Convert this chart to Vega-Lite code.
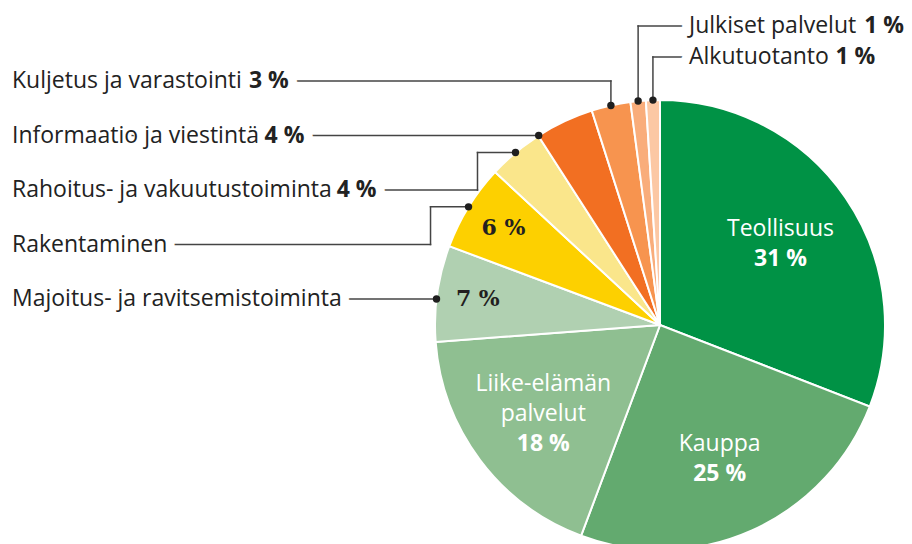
{
  "$schema": "https://vega.github.io/schema/vega-lite/v6.json",
  "width": 912,
  "height": 544,
  "autosize": {"type": "none"},
  "padding": 0,
  "background": "white",
  "config": {"view": {"stroke": null}},
  "data": {
    "values": [
      {"sector": "Teollisuus", "share": 30.9},
      {"sector": "Kauppa", "share": 24.8},
      {"sector": "Liike-elämän palvelut", "share": 18.1},
      {"sector": "Majoitus- ja ravitsemistoiminta", "share": 6.9},
      {"sector": "Rakentaminen", "share": 6.2},
      {"sector": "Rahoitus- ja vakuutustoiminta", "share": 4.0},
      {"sector": "Informaatio ja viestintä", "share": 4.2},
      {"sector": "Kuljetus ja varastointi", "share": 2.8},
      {"sector": "Julkiset palvelut", "share": 1.1},
      {"sector": "Alkutuotanto", "share": 1.0}
    ]
  },
  "transform": [
    {"window": [{"op": "sum", "field": "share", "as": "cum"}, {"op": "row_number", "as": "idx"}], "frame": [null, 0]},
    {"calculate": "datum.cum - datum.share", "as": "c0"},
    {"calculate": "(datum.cum - datum.share / 2) / 100 * 2 * PI", "as": "mid"},
    {"calculate": "round(datum.share) + ' %'", "as": "pct"},
    {"calculate": "datum.share >= 15 ? 'big' : (datum.share >= 5 ? 'mid' : 'small')", "as": "kind"},
    {"calculate": "length(datum.sector)", "as": "n"},
    {"calculate": "datum.n - length(replace(datum.sector, regexp('[ijlIJ]', 'g'), ''))", "as": "cI"},
    {"calculate": "datum.n - length(replace(datum.sector, regexp('[ -]', 'g'), ''))", "as": "cSp"},
    {"calculate": "datum.n - length(replace(datum.sector, regexp('[tf]', 'g'), ''))", "as": "cT"},
    {"calculate": "datum.n - length(replace(datum.sector, regexp('r', 'g'), ''))", "as": "cR"},
    {"calculate": "datum.n - length(replace(datum.sector, regexp('[sz]', 'g'), ''))", "as": "cS"},
    {"calculate": "datum.n - length(replace(datum.sector, regexp('[mwM]', 'g'), ''))", "as": "cM"},
    {"calculate": "datum.n - length(replace(datum.sector, regexp('[AKRT]', 'g'), ''))", "as": "cU"},
    {"calculate": "datum.n - length(replace(datum.sector, regexp('u', 'g'), ''))", "as": "cW"},
    {"calculate": "23 * (0.225 * datum.cI + 0.27 * datum.cSp + 0.345 * datum.cT + 0.405 * datum.cR + 0.475 * datum.cS + 0.92 * datum.cM + 0.62 * datum.cU + 0.6 * datum.cW + 0.57 * (datum.n - datum.cI - datum.cSp - datum.cT - datum.cR - datum.cS - datum.cM - datum.cU - datum.cW))", "as": "ew"},
    {"calculate": "datum.idx <= 8 ? -648 : 29", "as": "lx"},
    {"calculate": "datum.idx <= 8 ? 26 + (datum.idx - 4) * 54.5 : 299 - (datum.idx - 9) * 31", "as": "ly"},
    {"calculate": "datum.lx + datum.ew + 10", "as": "px"},
    {"calculate": "225 * sin(datum.mid)", "as": "xm"},
    {"calculate": "225 * cos(datum.mid)", "as": "ym"},
    {"calculate": "abs(datum.ly - datum.ym) < 20", "as": "straight"},
    {"calculate": "datum.straight ? datum.ly : datum.ym", "as": "yD"},
    {"calculate": "datum.straight ? -sqrt(max(0, 225 * 225 - datum.ly * datum.ly)) : datum.xm", "as": "xD"},
    {"calculate": "(datum.straight || cos(datum.mid) > 0.95) ? datum.xD : datum.xD - 38", "as": "xe"},
    {"calculate": "datum.lx + 10", "as": "xs"},
    {"calculate": "length(split(datum.sector, ' '))", "as": "nl"},
    {"calculate": "146 * sin(datum.mid)", "as": "bx"},
    {"calculate": "146 * cos(datum.mid)", "as": "by"},
    {"calculate": "datum.by + datum.nl * 15 + 10", "as": "bny"},
    {"calculate": "datum.by - datum.nl * 15 - 1.2", "as": "bpy"},
    {"calculate": "184 * sin(datum.mid)", "as": "mx"},
    {"calculate": "184 * cos(datum.mid)", "as": "my"}
  ],
  "layer": [
    {
      "mark": {"type": "arc", "outerRadius": 225, "stroke": "white", "strokeWidth": 2},
      "encoding": {
        "x": {"datum": 0, "type": "quantitative", "scale": {"domain": [-660, 252], "nice": false, "zero": false}, "axis": null},
        "y": {"datum": 0, "type": "quantitative", "scale": {"domain": [-219, 325], "nice": false, "zero": false}, "axis": null},
        "theta": {"field": "c0", "type": "quantitative", "stack": null, "scale": {"domain": [0, 100], "range": [0, 6.283185307179586]}},
        "theta2": {"field": "cum"},
        "color": {
          "field": "sector",
          "type": "nominal",
          "legend": null,
          "scale": {
            "domain": ["Teollisuus", "Kauppa", "Liike-elämän palvelut", "Majoitus- ja ravitsemistoiminta", "Rakentaminen", "Rahoitus- ja vakuutustoiminta", "Informaatio ja viestintä", "Kuljetus ja varastointi", "Julkiset palvelut", "Alkutuotanto"],
            "range": ["#009245", "#63aa6f", "#8fbf91", "#b0d0b1", "#fdd000", "#fae68b", "#f26f22", "#f7944f", "#f9ad7b", "#fcc8a4"]
          }
        }
      }
    },
    {
      "transform": [{"filter": "datum.kind != 'big'"}],
      "mark": {"type": "rule", "color": "#444444", "strokeWidth": 1.5, "strokeCap": "square"},
      "encoding": {
        "x": {"field": "xs", "type": "quantitative", "scale": {"domain": [-660, 252], "nice": false, "zero": false}, "axis": null},
        "x2": {"field": "xe"},
        "y": {"field": "ly", "type": "quantitative", "scale": {"domain": [-219, 325], "nice": false, "zero": false}, "axis": null},
        "y2": {"field": "ly"}
      }
    },
    {
      "transform": [{"filter": "datum.kind != 'big' && !datum.straight"}],
      "mark": {"type": "rule", "color": "#444444", "strokeWidth": 1.5, "strokeCap": "square"},
      "encoding": {
        "x": {"field": "xe", "type": "quantitative", "scale": {"domain": [-660, 252], "nice": false, "zero": false}, "axis": null},
        "x2": {"field": "xe"},
        "y": {"field": "ly", "type": "quantitative", "scale": {"domain": [-219, 325], "nice": false, "zero": false}, "axis": null},
        "y2": {"field": "yD"}
      }
    },
    {
      "transform": [{"filter": "datum.kind != 'big' && !datum.straight"}],
      "mark": {"type": "rule", "color": "#444444", "strokeWidth": 1.5, "strokeCap": "square"},
      "encoding": {
        "x": {"field": "xe", "type": "quantitative", "scale": {"domain": [-660, 252], "nice": false, "zero": false}, "axis": null},
        "x2": {"field": "xD"},
        "y": {"field": "yD", "type": "quantitative", "scale": {"domain": [-219, 325], "nice": false, "zero": false}, "axis": null},
        "y2": {"field": "yD"}
      }
    },
    {
      "transform": [{"filter": "datum.kind != 'big'"}],
      "mark": {"type": "circle", "size": 55, "color": "#1f1f1f", "opacity": 1},
      "encoding": {
        "x": {"field": "xD", "type": "quantitative", "scale": {"domain": [-660, 252], "nice": false, "zero": false}, "axis": null},
        "y": {"field": "yD", "type": "quantitative", "scale": {"domain": [-219, 325], "nice": false, "zero": false}, "axis": null}
      }
    },
    {
      "transform": [{"filter": "datum.kind != 'big'"}],
      "mark": {"type": "text", "align": "left", "baseline": "middle", "font": "Open Sans", "fontSize": 23, "color": "white", "stroke": "white", "strokeWidth": 18, "strokeJoin": "round"},
      "encoding": {
        "x": {"field": "lx", "type": "quantitative", "scale": {"domain": [-660, 252], "nice": false, "zero": false}, "axis": null},
        "y": {"field": "ly", "type": "quantitative", "scale": {"domain": [-219, 325], "nice": false, "zero": false}, "axis": null},
        "text": {"field": "sector", "type": "nominal"}
      }
    },
    {
      "transform": [{"filter": "datum.kind == 'small'"}],
      "mark": {"type": "text", "align": "left", "baseline": "middle", "font": "Open Sans", "fontSize": 23, "fontWeight": "bold", "color": "white", "stroke": "white", "strokeWidth": 18, "strokeJoin": "round"},
      "encoding": {
        "x": {"field": "px", "type": "quantitative", "scale": {"domain": [-660, 252], "nice": false, "zero": false}, "axis": null},
        "y": {"field": "ly", "type": "quantitative", "scale": {"domain": [-219, 325], "nice": false, "zero": false}, "axis": null},
        "text": {"field": "pct", "type": "nominal"}
      }
    },
    {
      "transform": [{"filter": "datum.kind != 'big'"}],
      "mark": {"type": "text", "align": "left", "baseline": "middle", "font": "Open Sans", "fontSize": 23, "color": "#222222"},
      "encoding": {
        "x": {"field": "lx", "type": "quantitative", "scale": {"domain": [-660, 252], "nice": false, "zero": false}, "axis": null},
        "y": {"field": "ly", "type": "quantitative", "scale": {"domain": [-219, 325], "nice": false, "zero": false}, "axis": null},
        "text": {"field": "sector", "type": "nominal"}
      }
    },
    {
      "transform": [{"filter": "datum.kind == 'small'"}],
      "mark": {"type": "text", "align": "left", "baseline": "middle", "font": "Open Sans", "fontSize": 23, "fontWeight": "bold", "color": "#222222"},
      "encoding": {
        "x": {"field": "px", "type": "quantitative", "scale": {"domain": [-660, 252], "nice": false, "zero": false}, "axis": null},
        "y": {"field": "ly", "type": "quantitative", "scale": {"domain": [-219, 325], "nice": false, "zero": false}, "axis": null},
        "text": {"field": "pct", "type": "nominal"}
      }
    },
    {
      "transform": [{"filter": "datum.kind == 'mid'"}],
      "mark": {"type": "text", "align": "center", "baseline": "middle", "font": "DejaVu Serif", "fontSize": 22, "fontWeight": "bold", "color": "#231f20"},
      "encoding": {
        "x": {"field": "mx", "type": "quantitative", "scale": {"domain": [-660, 252], "nice": false, "zero": false}, "axis": null},
        "y": {"field": "my", "type": "quantitative", "scale": {"domain": [-219, 325], "nice": false, "zero": false}, "axis": null},
        "text": {"field": "pct", "type": "nominal"}
      }
    },
    {
      "transform": [{"filter": "datum.kind == 'big'"}],
      "mark": {"type": "text", "align": "center", "baseline": "top", "lineBreak": " ", "lineHeight": 30, "font": "Open Sans", "fontSize": 23, "color": "white"},
      "encoding": {
        "x": {"field": "bx", "type": "quantitative", "scale": {"domain": [-660, 252], "nice": false, "zero": false}, "axis": null},
        "y": {"field": "bny", "type": "quantitative", "scale": {"domain": [-219, 325], "nice": false, "zero": false}, "axis": null},
        "text": {"field": "sector", "type": "nominal"}
      }
    },
    {
      "transform": [{"filter": "datum.kind == 'big'"}],
      "mark": {"type": "text", "align": "center", "baseline": "middle", "font": "Open Sans", "fontSize": 23, "fontWeight": "bold", "color": "white"},
      "encoding": {
        "x": {"field": "bx", "type": "quantitative", "scale": {"domain": [-660, 252], "nice": false, "zero": false}, "axis": null},
        "y": {"field": "bpy", "type": "quantitative", "scale": {"domain": [-219, 325], "nice": false, "zero": false}, "axis": null},
        "text": {"field": "pct", "type": "nominal"}
      }
    }
  ]
}
